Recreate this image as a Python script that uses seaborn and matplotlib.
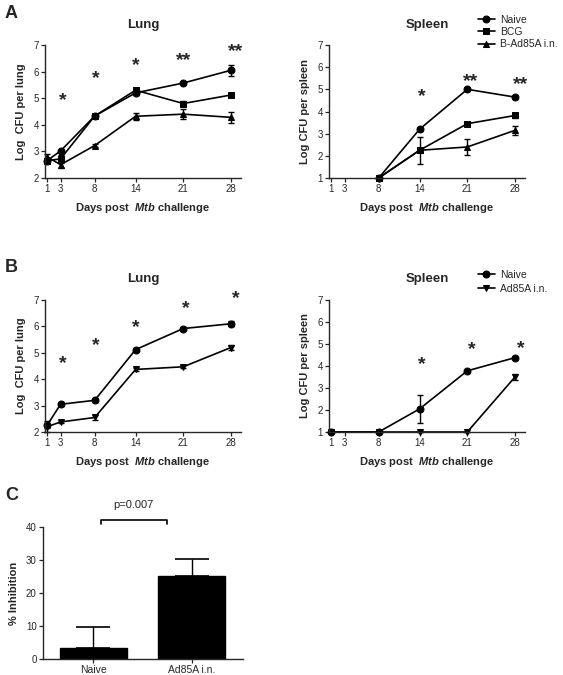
import matplotlib
matplotlib.use("Agg")
import matplotlib.pyplot as plt
import numpy as np
import pandas as pd
import seaborn as sns

# data
days = [1, 3, 8, 14, 21, 28]
nan = np.nan

# panel A, lung
a_lung_naive = [2.65, 3.02, 4.33, 5.20, 5.57, 6.05]
a_lung_naive_err = [0.05, 0.05, 0.05, 0.08, 0.05, 0.20]
a_lung_bcg = [2.65, 2.72, 4.33, 5.30, 4.80, 5.12]
a_lung_bcg_err = [0.10, 0.15, 0.05, 0.10, 0.10, 0.06]
a_lung_bad = [2.80, 2.50, 3.22, 4.32, 4.40, 4.28]
a_lung_bad_err = [0.10, 0.12, 0.05, 0.13, 0.20, 0.22]

# panel A, spleen
a_spl_naive = [nan, nan, 1.0, 3.20, 5.00, 4.65]
a_spl_naive_err = [0, 0, 0.02, 0.05, 0.03, 0.05]
a_spl_bcg = [nan, nan, 1.0, 2.25, 3.45, 3.82]
a_spl_bcg_err = [0, 0, 0.02, 0.08, 0.08, 0.12]
a_spl_bad = [nan, nan, 1.0, 2.25, 2.40, 3.15]
a_spl_bad_err = [0, 0, 0.02, 0.60, 0.35, 0.20]

# panel B, lung
b_lung_naive = [2.25, 3.05, 3.20, 5.12, 5.92, 6.10]
b_lung_naive_err = [0.10, 0.05, 0.05, 0.05, 0.05, 0.10]
b_lung_ad = [2.20, 2.38, 2.55, 4.37, 4.47, 5.20]
b_lung_ad_err = [0.20, 0.05, 0.10, 0.05, 0.05, 0.10]

# panel B, spleen
b_spl_naive = [1.0, nan, 1.0, 2.05, 3.78, 4.38]
b_spl_naive_err = [0, 0, 0, 0.62, 0.05, 0.05]
b_spl_ad = [1.0, nan, 1.0, 1.0, 1.0, 3.50]
b_spl_ad_err = [0, 0, 0, 0, 0, 0.15]

# significance marks (day, height, label)
a_lung_stars = [(3.3, 5.05, "*"), (8.2, 5.87, "*"), (14, 6.36, "*"), (21, 6.55, "**"), (28.7, 6.9, "**")]
a_spl_stars = [(14.3, 4.83, "*"), (21.5, 5.5, "**"), (28.8, 5.37, "**")]
b_lung_stars = [(3.3, 4.73, "*"), (8.2, 5.4, "*"), (14, 6.1, "*"), (21.3, 6.8, "*"), (28.7, 7.2, "*")]
b_spl_stars = [(14.3, 4.23, "*"), (21.6, 4.9, "*"), (28.8, 4.95, "*")]

# panel C
c_groups = ["Naive", "Ad85A i.n."]
c_inhib = [3.2, 25.2]
c_inhib_err = [6.5, 5.1]

sns.set_style("ticks")
plt.rcParams["font.family"] = ["Liberation Sans", "DejaVu Sans"]
plt.rcParams["mathtext.fontset"] = "custom"
plt.rcParams["mathtext.it"] = "Liberation Sans:italic:bold"
plt.rcParams["axes.linewidth"] = 1.0

W, H = 563, 675
fig = plt.figure(figsize=(W / 100, H / 100), dpi=100)


def px_axes(left, top, right, bottom):
    return fig.add_axes([left / W, 1 - bottom / H, (right - left) / W, (bottom - top) / H])


def style_ax(ax):
    sns.despine(ax=ax)
    ax.tick_params(labelsize=7, length=3, width=0.9, pad=1.5)


def curve_panel(ax, series, ylim, ylabel, title, stars, title_pad):
    for name, vals, err, mk in series:
        sns.lineplot(x=days, y=vals, marker=mk, color="black", ax=ax, label=name,
                     markersize=5, linewidth=1.2, markeredgecolor="black",
                     errorbar=None, clip_on=False, legend=False)
        ax.errorbar(days, vals, yerr=err, fmt="none", ecolor="black",
                    elinewidth=1.0, capsize=2.5, capthick=1.0, clip_on=False)
    for x, y, s in stars:
        ax.annotate(s, (x, y), xytext=(0, -2.5), textcoords="offset points",
                    ha="center", va="center", fontsize=14, fontweight="bold",
                    annotation_clip=False)
    ax.set_xlim(0.71, 29.47)
    ax.set_ylim(*ylim)
    ax.set_xticks(days)
    ax.set_yticks(range(ylim[0], ylim[1] + 1))
    ax.set_xlabel(r"Days post  $\mathit{Mtb}$ challenge", fontsize=8, fontweight="bold", labelpad=5)
    ax.set_ylabel(ylabel, fontsize=8, fontweight="bold", labelpad=5)
    ax.set_title(title, fontsize=9.5, fontweight="bold", pad=title_pad)
    style_ax(ax)


ax1 = px_axes(45, 45, 241, 178)
curve_panel(ax1, [("Naive", a_lung_naive, a_lung_naive_err, "o"),
                  ("BCG", a_lung_bcg, a_lung_bcg_err, "s"),
                  ("B-Ad85A i.n.", a_lung_bad, a_lung_bad_err, "^")],
            (2, 7), "Log  CFU per lung", "Lung", a_lung_stars, 12)

ax2 = px_axes(329, 45, 525, 178)
curve_panel(ax2, [("Naive", a_spl_naive, a_spl_naive_err, "o"),
                  ("BCG", a_spl_bcg, a_spl_bcg_err, "s"),
                  ("B-Ad85A i.n.", a_spl_bad, a_spl_bad_err, "^")],
            (1, 7), "Log CFU per spleen", "Spleen", a_spl_stars, 12)
h, l = ax2.get_legend_handles_labels()
fig.legend(h[:3], l[:3], loc="upper left", bbox_to_anchor=(478 / W, 1 - 15 / H),
           frameon=False, fontsize=7.5, handlelength=1.6, labelspacing=0.2,
           borderpad=0, borderaxespad=0, handletextpad=0.5)

ax3 = px_axes(45, 300, 241, 432)
curve_panel(ax3, [("Naive", b_lung_naive, b_lung_naive_err, "o"),
                  ("Ad85A i.n.", b_lung_ad, b_lung_ad_err, "v")],
            (2, 7), "Log  CFU per lung", "Lung", b_lung_stars, 13)

ax4 = px_axes(329, 300, 525, 432)
curve_panel(ax4, [("Naive", b_spl_naive, b_spl_naive_err, "o"),
                  ("Ad85A i.n.", b_spl_ad, b_spl_ad_err, "v")],
            (1, 7), "Log CFU per spleen", "Spleen", b_spl_stars, 13)
h, l = ax4.get_legend_handles_labels()
fig.legend(h[:2], l[:2], loc="upper left", bbox_to_anchor=(478 / W, 1 - 270 / H),
           frameon=False, fontsize=7.5, handlelength=1.6, labelspacing=0.35,
           borderpad=0, borderaxespad=0, handletextpad=0.5)

# panel C
ax5 = px_axes(43, 527, 243, 659)
sns.barplot(x=c_groups, y=c_inhib, color="black", width=0.68, ax=ax5,
            edgecolor="black", saturation=1)
ax5.errorbar([0, 1], c_inhib, yerr=[[0, 0], c_inhib_err], fmt="none", ecolor="black",
             elinewidth=1.0, capsize=12, capthick=1.2)
ax5.set_xlim(-0.51, 1.52)
ax5.set_ylim(0, 40)
ax5.set_yticks([0, 10, 20, 30, 40])
ax5.set_ylabel("% Inhibition", fontsize=8, fontweight="bold", labelpad=5)
style_ax(ax5)
ax5.tick_params(axis="x", labelsize=7.5)
ax5.plot([0.079, 0.079, 0.749, 0.749], [40.9, 42.1, 42.1, 40.9], color="black",
         lw=1.2, clip_on=False)
ax5.text(0.41, 46.7, "p=0.007", ha="center", va="center", fontsize=8)

for letter, y in [("A", 13), ("B", 267), ("C", 495)]:
    fig.text(5 / W, 1 - y / H, letter, fontsize=13, fontweight="bold", va="center")

fig.savefig("out.png", dpi=100)
